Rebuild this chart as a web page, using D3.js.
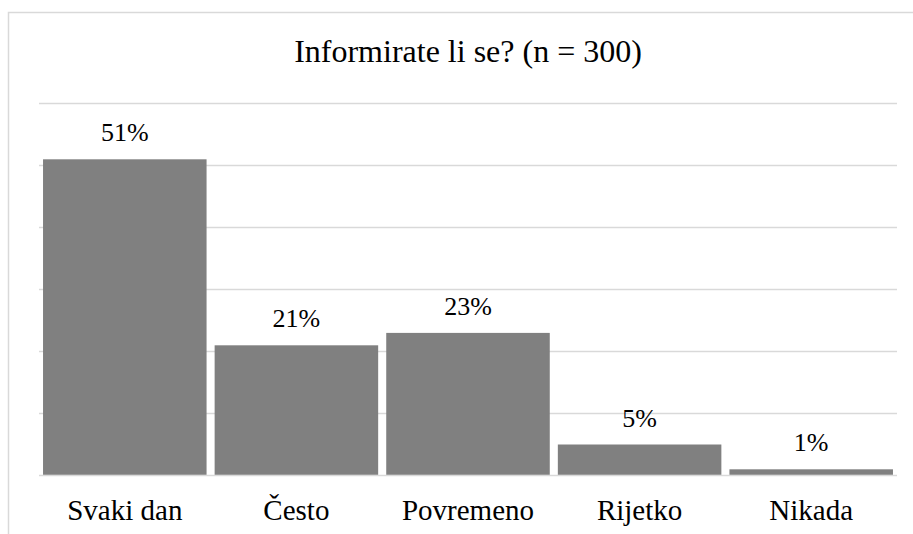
<!DOCTYPE html>
<html>
<head>
<meta charset="utf-8">
<script src="https://cdn.jsdelivr.net/npm/d3@7"></script>
<style>
	body { margin: 0; background: #fff; }
</style>
</head>
<body>
<svg id="chart"></svg>
<script>
const categories = ['Svaki dan', 'Često', 'Povremeno', 'Rijetko', 'Nikada']
const values = [0.51, 0.21, 0.23, 0.05, 0.01]
const valueLabels = ['51%', '21%', '23%', '5%', '1%']
const gridTicks = [0, 0.1, 0.2, 0.3, 0.4, 0.5, 0.6]
const title = 'Informirate li se? (n = 300)'

const FONT = "'Liberation Serif', 'Times New Roman', serif"
const width = 913
const height = 534
const plot = {left: 39, right: 897, top: 103.5, bottom: 475.5}

const svg = d3.select('#chart')
	.attr('width', width)
	.attr('height', height)

// chart area border (right and bottom fall outside the picture)
svg.append('rect')
	.attr('x', 8.5)
	.attr('y', 12.5)
	.attr('width', 920)
	.attr('height', 540)
	.attr('fill', 'none')
	.attr('stroke', '#d9d9d9')
	.attr('stroke-width', 1.5)

const x = d3.scaleBand()
	.domain(categories)
	.range([plot.left, plot.right])
	.paddingInner(0.047)
	.paddingOuter(0.0235)

const y = d3.scaleLinear()
	.domain([0, 0.6])
	.range([plot.bottom, plot.top])

// Gridlines
svg.append('g')
	.selectAll('line')
	.data(gridTicks)
	.join('line')
	.attr('x1', plot.left)
	.attr('x2', plot.right)
	.attr('y1', d => y(d))
	.attr('y2', d => y(d))
	.attr('stroke', '#d9d9d9')
	.attr('stroke-width', 1.5)

// Bars
svg.append('g')
	.selectAll('rect')
	.data(values)
	.join('rect')
	.attr('x', (d, i) => x(categories[i]))
	.attr('y', d => y(d))
	.attr('width', x.bandwidth())
	.attr('height', d => y(0) - y(d) - 0.75)
	.attr('fill', '#808080')

// Value labels
svg.append('g')
	.selectAll('text')
	.data(values)
	.join('text')
	.attr('x', (d, i) => x(categories[i]) + x.bandwidth() / 2)
	.attr('y', d => y(d) - 18)
	.attr('text-anchor', 'middle')
	.style('font-family', FONT)
	.style('font-size', '26px')
	.style('fill', '#000')
	.text((d, i) => valueLabels[i])

// Category axis labels
const xAxis = d3.axisBottom(x).tickSize(0).tickPadding(0)
const gx = svg.append('g')
	.attr('transform', `translate(0, ${plot.bottom})`)
	.call(xAxis)
gx.select('.domain').remove()
gx.selectAll('text')
	.attr('dy', null)
	.attr('y', 44.5)
	.style('font-family', FONT)
	.style('font-size', '29px')
	.style('fill', '#000')

// Title
svg.append('text')
	.attr('x', (plot.left + plot.right) / 2)
	.attr('y', 62)
	.attr('text-anchor', 'middle')
	.style('font-family', FONT)
	.style('font-size', '32px')
	.style('fill', '#000')
	.text(title)
</script>
</body>
</html>
